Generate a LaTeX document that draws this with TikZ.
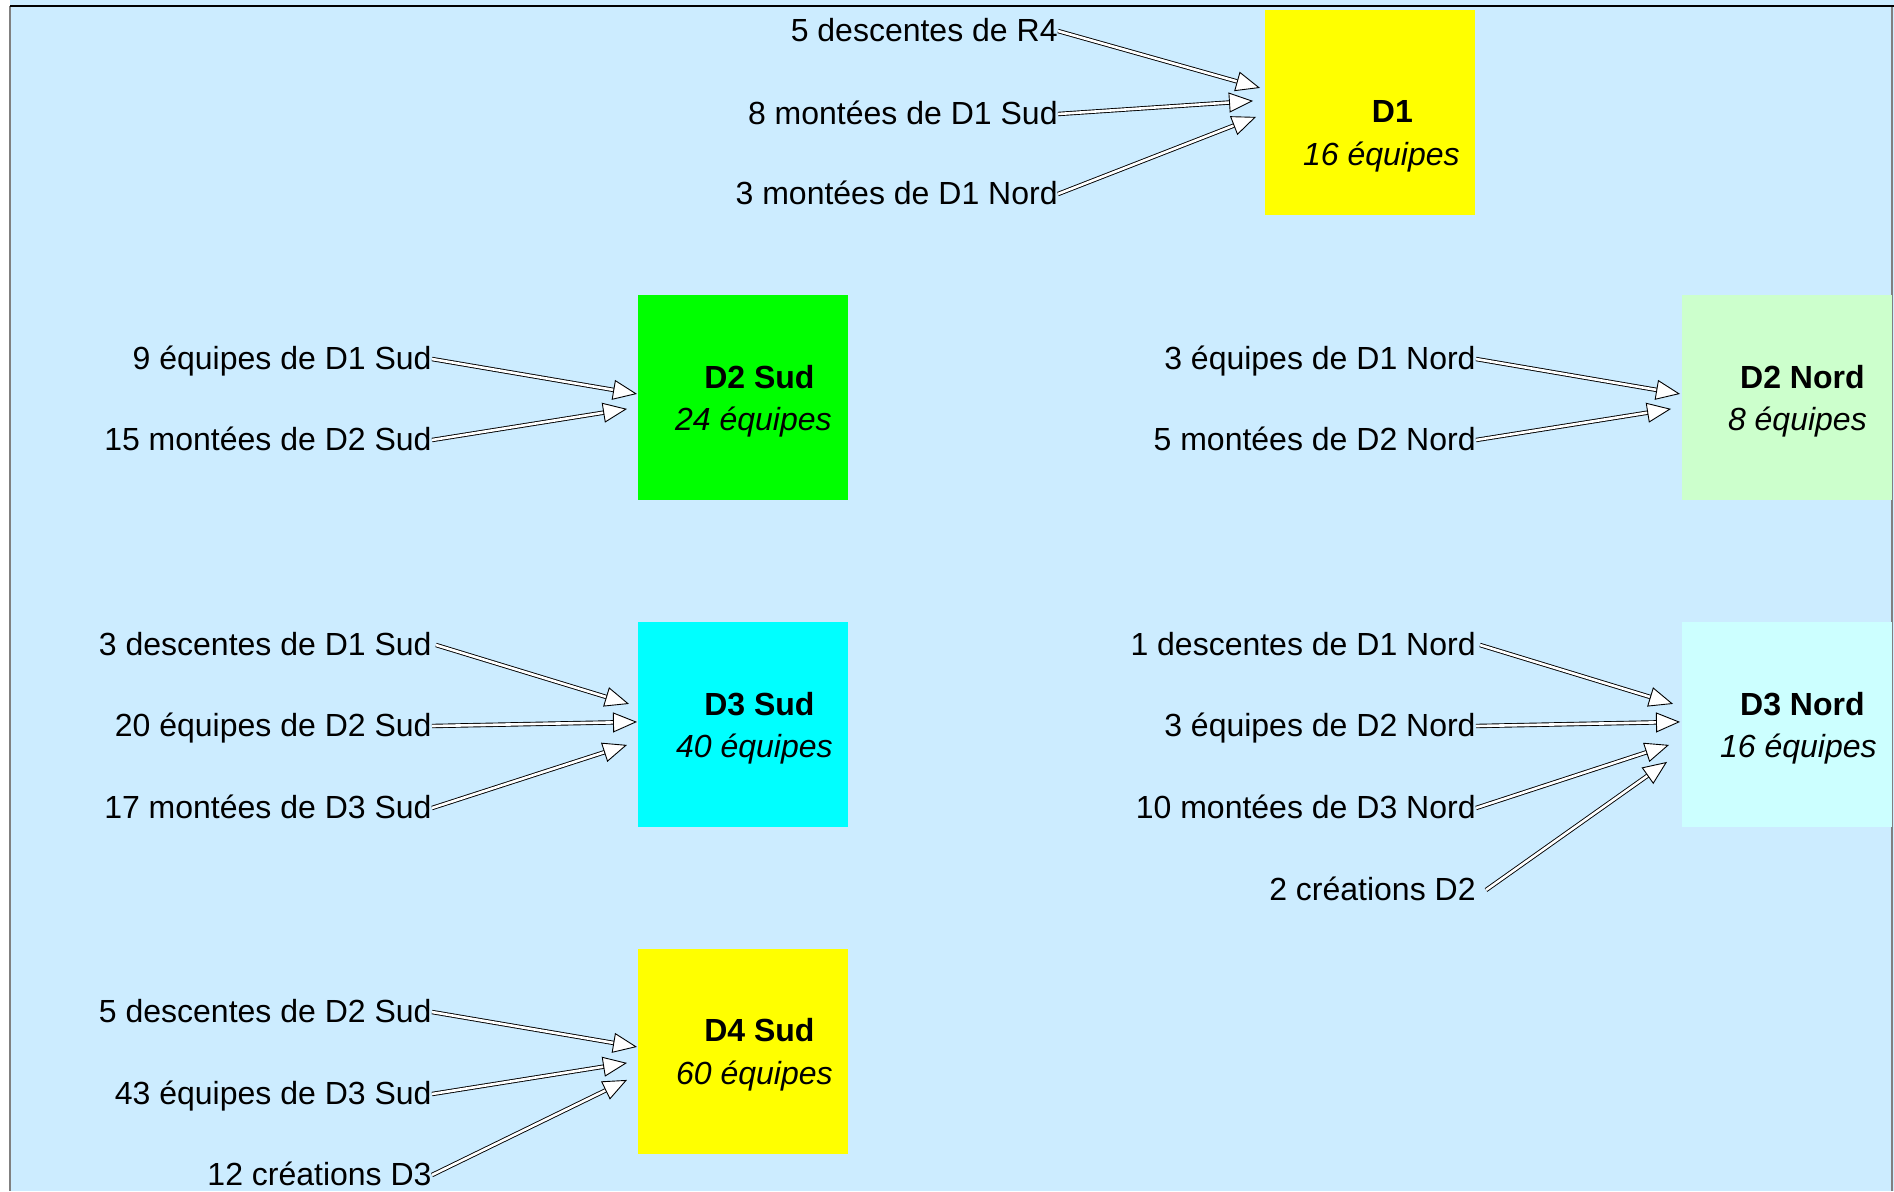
\documentclass[tikz,border=0pt]{standalone}
\usepackage{fontspec}
\setmainfont{Liberation Sans}
\usetikzlibrary{positioning,arrows.meta}

\definecolor{fondbleu}{RGB}{204,236,255}
\definecolor{jaune}{RGB}{255,255,0}
\definecolor{vert}{RGB}{0,255,0}
\definecolor{vertclair}{RGB}{204,255,204}
\definecolor{cyanvif}{RGB}{0,255,255}
\definecolor{cyanclair}{RGB}{204,255,255}

\begin{document}
\begin{tikzpicture}[x=0.5pt, y=-0.5pt,
    division/.style={anchor=north west, minimum width=105pt, minimum height=102.5pt, inner sep=0pt},
    divtitre/.style={font=\fontsize{16pt}{19pt}\selectfont\bfseries, inner sep=0pt, text height=12.5pt, text depth=1.6pt},
    divnombre/.style={font=\fontsize{16pt}{19pt}\selectfont\itshape, inner sep=0pt, text height=12.5pt, text depth=1.6pt},
    provenance/.style={anchor=east, font=\fontsize{16pt}{19pt}\selectfont, inner sep=0pt, text height=12.5pt, text depth=1.6pt},
    flux/.style={double, double distance=1.3pt, line width=0.45pt, -{Triangle[length=12pt, width=10pt, fill=white, line width=0.45pt]}}]
    \useasboundingbox (0,0) rectangle (1894,1191);
    \fill[fondbleu] (10,0) rectangle (1894,1191);
    \draw[gray, line width=0.6pt] (10,6) -- (10,1191);
    \draw[gray, line width=0.6pt] (1892,6) -- (1892,1191);
    \draw[line width=1pt] (10,6) -- (1894,6);

    % divisions
    \node[division, fill=jaune] (d1) at (1265,10) {};
    \node[division, fill=vert] (d2s) at (638,295) {};
    \node[division, fill=vertclair] (d2n) at (1682,295) {};
    \node[division, fill=cyanvif] (d3s) at (638,622) {};
    \node[division, fill=cyanclair] (d3n) at (1682,622) {};
    \node[division, fill=jaune] (d4s) at (638,949) {};

    \node[divtitre] at ([shift={(22,-1)}]d1.center) {D1};
    \node[divnombre] at ([shift={(11,42)}]d1.center) {16 équipes};
    \node[divtitre] at ([shift={(16,-20)}]d2s.center) {D2 Sud};
    \node[divnombre] at ([shift={(10,22)}]d2s.center) {24 équipes};
    \node[divtitre] at ([shift={(15,-20)}]d2n.center) {D2 Nord};
    \node[divnombre] at ([shift={(10,22)}]d2n.center) {8 équipes};
    \node[divtitre] at ([shift={(16,-20)}]d3s.center) {D3 Sud};
    \node[divnombre] at ([shift={(11,22)}]d3s.center) {40 équipes};
    \node[divtitre] at ([shift={(15,-20)}]d3n.center) {D3 Nord};
    \node[divnombre] at ([shift={(11,22)}]d3n.center) {16 équipes};
    \node[divtitre] at ([shift={(16,-21)}]d4s.center) {D4 Sud};
    \node[divnombre] at ([shift={(11,22)}]d4s.center) {60 équipes};

    % D1
    \node[provenance] (descR4) at (1058,31) {5 descentes de R4};
    \node[provenance] (montD1Sud) at (1058,114) {8 montées de D1 Sud};
    \node[provenance] (montD1Nord) at (1058,194) {3 montées de D1 Nord};
    \draw[flux] (descR4.east) -- ([shift={(-5,-25)}]d1.west);
    \draw[flux] (montD1Sud.east) -- ([shift={(-12,-12)}]d1.west);
    \draw[flux] (montD1Nord.east) -- ([shift={(-9,4)}]d1.west);

    % D2 Sud
    \node[provenance] (eqD1Sud) at (432,359) {9 équipes de D1 Sud};
    \node[provenance] (montD2Sud) at (432,440) {15 montées de D2 Sud};
    \draw[flux] (eqD1Sud.east) -- ([shift={(-1,-4)}]d2s.west);
    \draw[flux] (montD2Sud.east) -- ([shift={(-11,11)}]d2s.west);

    % D2 Nord
    \node[provenance] (eqD1Nord) at (1476,359) {3 équipes de D1 Nord};
    \node[provenance] (montD2Nord) at (1476,440) {5 montées de D2 Nord};
    \draw[flux] (eqD1Nord.east) -- ([shift={(-2,-4)}]d2n.west);
    \draw[flux] (montD2Nord.east) -- ([shift={(-11,11)}]d2n.west);

    % D3 Sud
    \node[provenance] (descD1Sud) at (432,645) {3 descentes de D1 Sud};
    \node[provenance] (eqD2Sud) at (432,726) {20 équipes de D2 Sud};
    \node[provenance] (montD3Sud) at (432,808) {17 montées de D3 Sud};
    \draw[flux] ([xshift=2pt]descD1Sud.east) -- ([shift={(-9,-21)}]d3s.west);
    \draw[flux] (eqD2Sud.east) -- ([shift={(-1,-3)}]d3s.west);
    \draw[flux] (montD3Sud.east) -- ([shift={(-11,20)}]d3s.west);

    % D3 Nord
    \node[provenance] (descD1Nord) at (1476,645) {1 descentes de D1 Nord};
    \node[provenance] (eqD2Nord) at (1476,726) {3 équipes de D2 Nord};
    \node[provenance] (montD3Nord) at (1476,808) {10 montées de D3 Nord};
    \node[provenance] (creaD2) at (1476,890) {2 créations D2};
    \draw[flux] ([xshift=2pt]descD1Nord.east) -- ([shift={(-9,-21)}]d3n.west);
    \draw[flux] (eqD2Nord.east) -- ([shift={(-2,-3)}]d3n.west);
    \draw[flux] (montD3Nord.east) -- ([shift={(-13,20)}]d3n.west);
    \draw[flux] ([xshift=5pt]creaD2.east) -- ([shift={(-15,37)}]d3n.west);

    % D4 Sud
    \node[provenance] (descD2Sud) at (432,1012) {5 descentes de D2 Sud};
    \node[provenance] (eqD3Sud) at (432,1094) {43 équipes de D3 Sud};
    \node[provenance] (creaD3) at (432,1175) {12 créations D3};
    \draw[flux] (descD2Sud.east) -- ([shift={(-1,-5)}]d4s.west);
    \draw[flux] (eqD3Sud.east) -- ([shift={(-11,11)}]d4s.west);
    \draw[flux] (creaD3.east) -- ([shift={(-11,28)}]d4s.west);
\end{tikzpicture}
\end{document}
